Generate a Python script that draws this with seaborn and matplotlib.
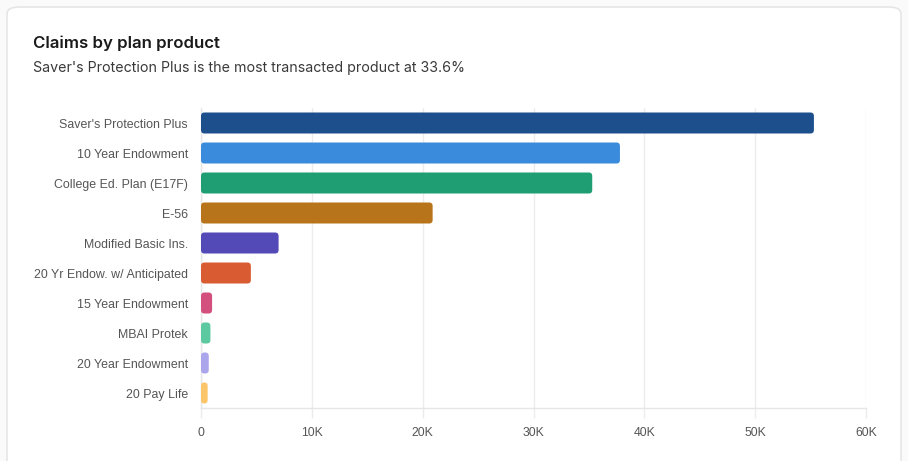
import matplotlib
matplotlib.use("Agg")
import matplotlib.pyplot as plt
from matplotlib.patches import FancyBboxPatch
from matplotlib.ticker import FuncFormatter, MultipleLocator
import seaborn as sns
import pandas as pd

products = [
    "Saver's Protection Plus",
    "10 Year Endowment",
    "College Ed. Plan (E17F)",
    "E-56",
    "Modified Basic Ins.",
    "20 Yr Endow. w/ Anticipated",
    "15 Year Endowment",
    "MBAI Protek",
    "20 Year Endowment",
    "20 Pay Life",
]
claims = [55300, 37800, 35300, 20900, 7000, 4500, 1000, 850, 700, 600]
colors = [
    "#1c4f8c", "#3a8bdc", "#1f9e74", "#b8741a", "#5349b7",
    "#d95b32", "#d24f7e", "#5cc9a0", "#aba5ec", "#fbc56a",
]

df = pd.DataFrame({"product": products, "claims": claims})

sns.set_theme(style="white")
plt.rcParams["font.family"] = ["Liberation Sans", "DejaVu Sans"]

W, H = 908, 461
fig = plt.figure(figsize=(W / 100, H / 100), dpi=100, facecolor="#fafafa")

# card background
card = FancyBboxPatch((7 / W, -20 / H), (W - 14) / W, (H + 20 - 7) / H,
                      boxstyle="round,pad=0,rounding_size=0.014",
                      transform=fig.transFigure, facecolor="white",
                      edgecolor="#e6e6e6", linewidth=1.2, zorder=-5)
fig.patches.append(card)

fig.text(33 / W, 1 - 43 / H, "Claims by plan product", fontsize=12.1,
         fontweight="semibold", family=["Inter", "DejaVu Sans"],
         color="#1a1a1a", va="center", ha="left")
fig.text(33 / W, 1 - 68 / H,
         "Saver's Protection Plus is the most transacted product at 33.6%",
         fontsize=10.25, family=["Inter", "DejaVu Sans"], color="#3a3a3a",
         va="center", ha="left")

left, right, top, bottom = 201, 866, 108, 408
ax = fig.add_axes([left / W, 1 - bottom / H, (right - left) / W, (bottom - top) / H])
ax.set_facecolor("none")
ax.set_zorder(2)

sns.barplot(data=df, x="claims", y="product", hue="product",
            palette=colors, legend=False, width=0.7, ax=ax,
            saturation=1, zorder=3)

ax.set_xlim(0, 60000)
ax.set_ylim(len(products) - 0.5, -0.5)

# rounded bar corners
px_per_x = (right - left) / 60000
px_per_y = (bottom - top) / len(products)
radius_px = 3.5
r_x = radius_px / px_per_x
aspect = (radius_px / px_per_y) / r_x
for patch in list(ax.patches):
    x0, y0 = patch.get_x(), patch.get_y()
    w, h = patch.get_width(), patch.get_height()
    fc = patch.get_facecolor()
    patch.remove()
    rr = min(r_x, w / 2)
    rounded = FancyBboxPatch((x0, y0), w, h,
                             boxstyle=f"round,pad=0,rounding_size={rr}",
                             mutation_aspect=aspect, facecolor=fc,
                             edgecolor="none", zorder=3)
    ax.add_patch(rounded)

ax.xaxis.set_major_locator(MultipleLocator(10000))
ax.xaxis.set_major_formatter(FuncFormatter(lambda v, p: "0" if v == 0 else f"{int(v / 1000)}K"))
ax.grid(axis="x", color="#ececec", linewidth=1, zorder=0)
ax.grid(axis="y", visible=False)
ax.set_axisbelow(True)
ax.set_xlabel("")
ax.set_ylabel("")

for side in ["top", "right"]:
    ax.spines[side].set_visible(False)
ax.spines["left"].set_color("#e6e6e6")
ax.spines["bottom"].set_color("#e6e6e6")
ax.spines["left"].set_linewidth(1)
ax.spines["bottom"].set_linewidth(1)

ax.tick_params(axis="x", length=7.2, width=1, color="#ececec", pad=6.5,
               labelsize=8.8, labelcolor="#555555", bottom=True)
ax.tick_params(axis="y", length=0, pad=9.5, labelsize=8.9, labelcolor="#555555")

fig.savefig("out.png", dpi=100, facecolor=fig.get_facecolor())
